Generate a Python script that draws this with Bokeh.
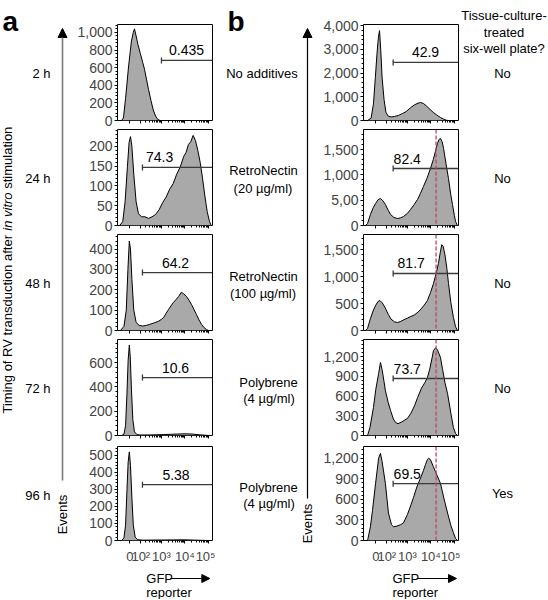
import numpy as np
from bokeh.plotting import figure
from bokeh.layouts import row, column
from bokeh.models import Range1d, FixedTicker, Span, Arrow, NormalHead, Spacer
from bokeh.core.properties import value
from bokeh.embed import file_html
from bokeh.resources import INLINE

# ---------------- data ----------------
X_TICKS = [1.65, 2.12, 3, 4, 5]
X_TICK_LABELS = ["0", "10²", "10³", "10⁴", "10⁵"]
X_START, X_END = 1.126, 5.176

a_times = ["2 h", "24 h", "48 h", "72 h", "96 h"]
b_conditions = [["No additives"], ["RetroNectin", "(20 µg/ml)"], ["RetroNectin", "(100 µg/ml)"],
                ["Polybrene", "(4 µg/ml)"], ["Polybrene", "(4 µg/ml)"]]
b_plate = ["No", "No", "No", "No", "Yes"]

a1_x = [1.30, 1.38, 1.47, 1.60, 1.72, 1.80, 1.85, 1.92, 2.00, 2.10, 2.20, 2.28, 2.36, 2.45, 2.55, 2.65, 2.75, 2.85, 2.95]
a1_y = [0, 30, 250, 620, 900, 1000, 1040, 960, 860, 760, 660, 580, 470, 350, 230, 120, 50, 10, 0]
a2_x = [1.22, 1.35, 1.45, 1.55, 1.62, 1.68, 1.74, 1.82, 1.92, 2.02, 2.15, 2.30, 2.45, 2.60, 2.75, 2.90, 3.05, 3.20,
        3.35, 3.50, 3.65, 3.80, 3.95, 4.05, 4.15, 4.25, 4.35, 4.45, 4.55, 4.65, 4.75, 4.85, 4.95, 5.05, 5.12]
a2_y = [0, 10, 60, 150, 210, 225, 200, 130, 60, 30, 22, 22, 18, 22, 28, 40, 58, 72,
        92, 106, 130, 148, 175, 185, 205, 212, 228, 215, 190, 160, 120, 75, 35, 10, 0]
a3_x = [1.25, 1.40, 1.50, 1.57, 1.63, 1.68, 1.74, 1.82, 1.92, 2.05, 2.20, 2.35, 2.50, 2.70, 2.87, 3.00, 3.10, 3.20,
        3.30, 3.40, 3.51, 3.62, 3.73, 3.85, 3.95, 4.07, 4.18, 4.28, 4.38, 4.49, 4.60, 4.71, 4.82, 4.92, 5.00]
a3_y = [0, 20, 100, 300, 440, 400, 250, 100, 40, 25, 22, 25, 30, 38, 45, 55, 65, 85,
        103, 120, 138, 152, 167, 188, 180, 167, 148, 128, 105, 79, 52, 30, 14, 5, 0]
a4_x = [1.30, 1.40, 1.47, 1.53, 1.58, 1.63, 1.67, 1.72, 1.78, 1.85, 1.95, 2.10, 2.50, 2.80, 3.10, 3.40, 3.70, 4.00,
        4.30, 4.60, 4.90, 5.10]
a4_y = [0, 10, 80, 350, 620, 745, 650, 380, 130, 30, 8, 4, 5, 6, 8, 10, 12, 14, 12, 6, 2, 0]
a5_x = [1.30, 1.40, 1.47, 1.53, 1.58, 1.63, 1.68, 1.74, 1.80, 1.88, 1.98, 2.20, 3.00, 4.00, 5.00]
a5_y = [0, 15, 90, 300, 460, 520, 440, 250, 90, 20, 5, 2, 3, 4, 0]

b1_x = [1.30, 1.45, 1.55, 1.63, 1.70, 1.76, 1.81, 1.86, 1.92, 2.00, 2.08, 2.18, 2.30, 2.45, 2.62, 2.80, 2.95, 3.13,
        3.30, 3.45, 3.56, 3.68, 3.80, 3.95, 4.10, 4.25, 4.40, 4.54, 4.66, 4.75]
b1_y = [0, 100, 700, 1800, 2800, 3500, 3790, 3000, 1800, 900, 350, 180, 150, 170, 215, 300, 380, 540,
        660, 730, 760, 720, 620, 480, 340, 230, 130, 60, 10, 0]
b2_x = [1.21, 1.30, 1.42, 1.55, 1.64, 1.75, 1.85, 1.95, 2.06, 2.18, 2.28, 2.42, 2.57, 2.70, 2.83, 3.00, 3.13, 3.28,
        3.43, 3.55, 3.68, 3.83, 3.98, 4.10, 4.19, 4.28, 4.35, 4.41, 4.48, 4.54, 4.65, 4.75, 4.85, 4.92, 5.00, 5.05, 5.13]
b2_y = [0, 40, 217, 360, 434, 510, 533, 490, 414, 300, 217, 160, 138, 150, 177, 240, 315, 410,
        513, 630, 769, 930, 1124, 1300, 1460, 1620, 1700, 1716, 1650, 1519, 1200, 927, 600, 414, 200, 79, 0]
b3_x = [1.21, 1.30, 1.42, 1.55, 1.65, 1.75, 1.83, 1.93, 2.05, 2.18, 2.30, 2.45, 2.57, 2.70, 2.85, 3.00, 3.15, 3.30,
        3.45, 3.60, 3.75, 3.85, 3.98, 4.11, 4.22, 4.32, 4.40, 4.46, 4.52, 4.60, 4.68, 4.75, 4.85, 4.96, 5.05, 5.13]
b3_y = [0, 40, 220, 380, 470, 540, 555, 510, 420, 300, 210, 160, 148, 165, 200, 230, 260, 290,
        340, 410, 490, 555, 700, 870, 1050, 1240, 1450, 1590, 1560, 1400, 1150, 870, 520, 240, 70, 0]
b4_x = [1.30, 1.40, 1.55, 1.65, 1.77, 1.85, 1.92, 2.00, 2.06, 2.18, 2.28, 2.40, 2.50, 2.60, 2.75, 3.00, 3.15, 3.30,
        3.43, 3.60, 3.75, 3.85, 3.95, 4.05, 4.11, 4.20, 4.28, 4.35, 4.41, 4.50, 4.60, 4.71, 4.85, 4.96, 5.05, 5.13]
b4_y = [0, 120, 424, 700, 940, 1110, 1000, 820, 680, 500, 380, 250, 195, 180, 205, 260, 340, 450,
        575, 720, 810, 880, 1010, 1180, 1290, 1333, 1300, 1240, 1180, 1000, 800, 636, 340, 120, 30, 0]
b5_x = [1.30, 1.42, 1.51, 1.64, 1.77, 1.85, 1.92, 2.06, 2.19, 2.32, 2.41, 2.55, 2.70, 2.83, 3.00, 3.15, 3.26, 3.40,
        3.56, 3.68, 3.77, 3.85, 3.90, 3.98, 4.10, 4.25, 4.41, 4.55, 4.71, 4.85, 4.96, 5.05, 5.13]
b5_y = [0, 200, 440, 830, 1200, 1271, 1150, 830, 400, 230, 200, 210, 230, 257, 380, 520, 630, 780,
        914, 1020, 1110, 1180, 1200, 1180, 1080, 960, 830, 620, 400, 220, 114, 30, 0]

a_ymax = [1090, 243, 472, 790, 552]
b_ymax = [4050, 1895, 1778, 1459, 1371]
a_yticks = [[0, 200, 400, 600, 800, 1000], [0, 50, 100, 150, 200], [0, 100, 200, 300, 400], [0, 200, 400, 600],
            [0, 100, 200, 300, 400, 500]]
b_yticks = [[0, 1000, 2000, 3000, 4000], [0, 500, 1000, 1500], [0, 500, 1000, 1500], [0, 300, 600, 900, 1200],
            [0, 300, 600, 900, 1200]]
b2_tick_labels = ["0", "5,00", "1,000", "1,500"]

a_gate_start = [3.0, 2.19, 2.19, 2.19, 2.19]
a_gate_y = [682, 147, 285, 477, 328]
a_gate_pct = ["0.435", "74.3", "64.2", "10.6", "5.38"]
a_gate_label_x = [4.07, 2.92, 3.6, 3.6, 3.62]
b_gate_start = [2.39, 2.39, 2.39, 2.39, 2.39]
b_gate_y = [2450, 1125, 1056, 866, 829]
b_gate_pct = ["42.9", "82.4", "81.7", "73.7", "69.5"]
b_gate_label_x = [3.77, 2.99, 3.16, 2.99, 2.99]
reference_line_x = 4.22

# ---------------- style / layout ----------------
FONT = value("Liberation Sans")
FILL = "#a9a9a9"
GATE = "#3a3a3a"
RED = "#b84a5e"
FRAME_W, FRAME_H = 95, 96
LB = 44
X_MINOR = [n + np.log10(k) for n in (2, 3, 4) for k in range(2, 10)]
PAGE_H = 599                      # page is drawn from (0, 0); Bokeh's page has no body margin
TOP_B = [8, 1, 1, 1, 1]
BOT_B = [8, 8, 8, 8, 24]


def make_panel(xs, ys, ymax, yticks, ylabels, gx, gy, glabel, glx, tb, bb, bottom, rb, red):
    p = figure(width=LB + FRAME_W + rb, height=tb + FRAME_H + bb,
               x_range=Range1d(X_START, X_END), y_range=Range1d(0, ymax),
               output_backend="svg", toolbar_location=None,
               min_border_left=LB, min_border_right=rb, min_border_top=tb, min_border_bottom=bb)
    p.grid.visible = False
    p.outline_line_color = "black"
    p.outline_line_width = 1
    p.outline_line_alpha = 1
    p.background_fill_color = "white"
    p.border_fill_color = "white"

    p.varea(x=xs, y1=0, y2=ys, fill_color=FILL)
    p.line(xs, ys, line_color="black", line_width=1)
    if red:
        p.add_layout(Span(location=reference_line_x, dimension="height", line_color=RED,
                          line_dash="4 2", line_width=1.3))
    p.segment(x0=[gx], y0=[gy], x1=[X_END], y1=[gy], line_color=GATE, line_width=1.3)
    p.scatter(x=[gx], y=[gy], marker="dash", angle=np.pi / 2, size=6, line_color=GATE, line_width=1.3)
    p.text(x=[glx], y=[gy], text=[glabel], y_offset=-10, text_font=FONT, text_font_size=value("14px"),
           text_align="center", text_baseline="middle", text_color="black")

    xa = p.xaxis[0]
    xa.ticker = FixedTicker(ticks=X_TICKS, minor_ticks=X_MINOR)
    xa.axis_line_color = None
    xa.major_tick_out = 3
    xa.major_tick_in = 0
    xa.minor_tick_out = 2
    xa.minor_tick_in = 0
    xa.major_tick_line_color = "black"
    xa.minor_tick_line_color = "black"
    xa.major_label_text_font = "Liberation Sans"
    if bottom:
        xa.major_label_overrides = dict(zip(X_TICKS, X_TICK_LABELS))
        xa.major_label_text_font_size = "13px"
        xa.major_label_standoff = 5
    else:
        xa.major_label_overrides = {t: "" for t in X_TICKS}
        xa.major_label_text_font_size = "1px"
        xa.major_label_standoff = 0

    step = yticks[1] - yticks[0]
    minors = [float(v) for v in np.arange(0, ymax, step / 5.0)]
    ya = p.yaxis[0]
    ya.ticker = FixedTicker(ticks=yticks, minor_ticks=minors)
    ya.major_label_overrides = dict(zip(yticks, ylabels))
    ya.axis_line_color = None
    ya.major_tick_out = 3
    ya.major_tick_in = 0
    ya.minor_tick_out = 2
    ya.minor_tick_in = 0
    ya.major_tick_line_color = "black"
    ya.minor_tick_line_color = "black"
    ya.major_label_text_font = "Liberation Sans"
    ya.major_label_text_font_size = "14px"
    ya.major_label_standoff = 2
    return p


def canvas(w, h):
    c = figure(width=w, height=h, x_range=Range1d(0, w), y_range=Range1d(0, h),
               output_backend="svg", toolbar_location=None, min_border=0,
               x_axis_location=None, y_axis_location=None)
    c.grid.visible = False
    c.outline_line_color = None
    c.background_fill_color = "white"
    c.border_fill_color = "white"
    return c


def add_text(c, x, y, s, size=13, align="center", baseline="middle", angle=0.0, style="normal", color="black"):
    c.text(x=[x], y=[y], text=[s], text_font=FONT, text_font_size=value(f"{size}px"),
           text_align=align, text_baseline=baseline, angle=angle, text_font_style=style, text_color=color)


def add_arrow(c, x0, y0, x1, y1, color, width, head):
    c.add_layout(Arrow(end=NormalHead(size=head, fill_color="black", line_color="black", line_width=1),
                       x_start=x0, y_start=y0, x_end=x1, y_end=y1, line_color=color, line_width=width))


def fmt(v):
    return f"{v:,}"


# ---------------- panels ----------------
a_data = [(a1_x, a1_y), (a2_x, a2_y), (a3_x, a3_y), (a4_x, a4_y), (a5_x, a5_y)]
b_data = [(b1_x, b1_y), (b2_x, b2_y), (b3_x, b3_y), (b4_x, b4_y), (b5_x, b5_y)]

a_panels = []
for i, (xs, ys) in enumerate(a_data):
    a_panels.append(make_panel(xs, ys, a_ymax[i], a_yticks[i], [fmt(v) for v in a_yticks[i]],
                               a_gate_start[i], a_gate_y[i], a_gate_pct[i], a_gate_label_x[i],
                               TOP_B[i], BOT_B[i], bottom=(i == 4), rb=3, red=False))
b_panels = []
for i, (xs, ys) in enumerate(b_data):
    labels = b2_tick_labels if i == 1 else [fmt(v) for v in b_yticks[i]]
    b_panels.append(make_panel(xs, ys, b_ymax[i], b_yticks[i], labels,
                               b_gate_start[i], b_gate_y[i], b_gate_pct[i], b_gate_label_x[i],
                               TOP_B[i], BOT_B[i], bottom=(i == 4), rb=2, red=(i >= 1)))


def bottom_canvas(w):
    c = canvas(w, 33)          # page y 566..599
    add_text(c, LB - 1, PAGE_H - 578, "GFP", align="left")
    add_arrow(c, LB + 35, PAGE_H - 578, LB + FRAME_W - 1, PAGE_H - 578, "black", 1, 8)
    add_text(c, LB - 1, PAGE_H - 592, "reporter", align="left")
    return c


def panel_column(panels, w):
    kids = [Spacer(width=w, height=16)]
    for i, p in enumerate(panels):
        kids.append(p)
        if i == 3:
            kids.append(Spacer(width=w, height=2))
    kids.append(bottom_canvas(w))
    return column(*kids)


col_a = panel_column(a_panels, LB + FRAME_W + 3)   # page x 73..215
col_b = panel_column(b_panels, LB + FRAME_W + 2)   # page x 319..460

# ---------------- left canvas (page x 0..73) ----------------
left = canvas(73, PAGE_H)
add_text(left, 2, PAGE_H - 21, "a", size=28, align="left", baseline="alphabetic", style="bold")
title_y0 = PAGE_H - 413
add_text(left, 7, title_y0, "Timing of RV transduction after", align="left", angle=np.pi / 2)
add_text(left, 7, title_y0 + 182.8, "in vitro", align="left", angle=np.pi / 2, style="italic")
add_text(left, 7, title_y0 + 224.7, "stimulation", align="left", angle=np.pi / 2)
for t, yy in zip(a_times, [73, 178, 283, 388, 495]):
    add_text(left, 50, PAGE_H - yy, t, align="right")
add_arrow(left, 62, PAGE_H - 480, 62, PAGE_H - 28, "#7a7a7a", 1.6, 9)
add_text(left, 61.5, PAGE_H - 514, "Events", angle=np.pi / 2)

# ---------------- middle canvas (page x 215..319) ----------------
MID_X0 = 215
mid = canvas(104, PAGE_H)
add_text(mid, 227 - MID_X0, PAGE_H - 21, "b", size=28, align="left", baseline="alphabetic", style="bold")
cond_y = [[73], [170, 188], [276, 293], [382, 398], [487, 503]]
cond_x = [[261.5], [263, 262.5], [263, 262.5], [268, 268.5], [268, 268.5]]
for lines, ys, xs in zip(b_conditions, cond_y, cond_x):
    for s, yy, xx in zip(lines, ys, xs):
        add_text(mid, xx - MID_X0, PAGE_H - yy, s)
add_arrow(mid, 307 - MID_X0, PAGE_H - 498, 307 - MID_X0, PAGE_H - 28, "black", 1.2, 9)
add_text(mid, 307 - MID_X0, PAGE_H - 523, "Events", angle=np.pi / 2)

# ---------------- right canvas (page x 460..547) ----------------
RIGHT_X0 = 460
right = canvas(87, PAGE_H)
for s, yy in zip(["Tissue-culture-", "treated", "six-well plate?"], [15, 32, 48]):
    add_text(right, 503.5 - RIGHT_X0, PAGE_H - yy, s)
for s, yy in zip(b_plate, [73, 178, 283, 388, 493]):
    add_text(right, 502 - RIGHT_X0, PAGE_H - yy, s)

layout = row(left, col_a, mid, col_b, right)

with open("out.html", "w") as f:
    f.write(file_html(layout, INLINE))
